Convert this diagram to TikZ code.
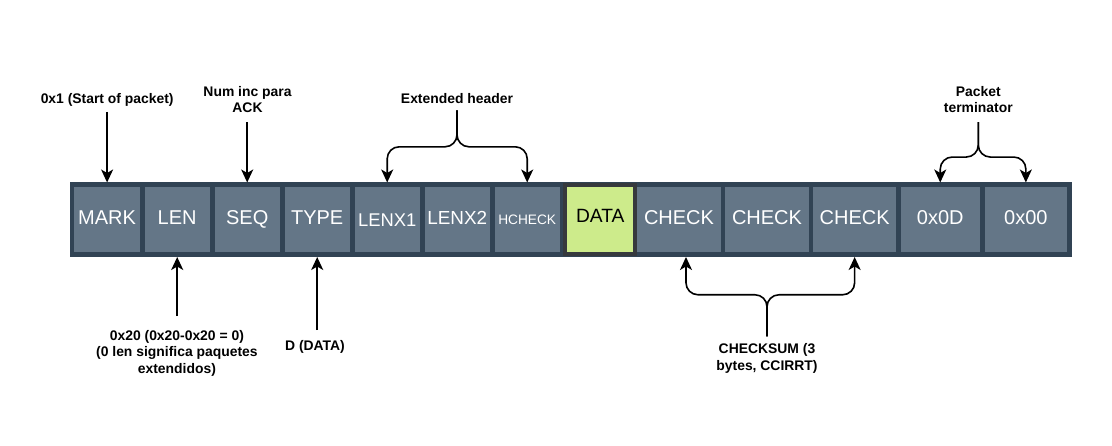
\documentclass[tikz,border=0pt]{standalone}
\usepackage{fontspec}
\setmainfont{Liberation Sans}
\usetikzlibrary{arrows.meta}

\definecolor{cellfill}{HTML}{647687}
\definecolor{cellline}{HTML}{314354}
\definecolor{datafill}{HTML}{CDEB8B}
\definecolor{dataline}{HTML}{36393D}

\tikzset{
  cell/.style={draw=cellline, fill=cellfill, line width=4.6pt, minimum height=69.9pt,
    inner sep=0pt, text=white, text depth=5pt, font=\fontsize{20}{24}\selectfont},
  lbl/.style={font=\bfseries\fontsize{13.9}{16.5}\selectfont, align=center, inner sep=2pt},
  arr/.style={line width=1.6pt, -{Stealth[length=13pt,width=12pt,inset=3.5pt]}},
}

\begin{document}
\begin{tikzpicture}[x=1pt,y=-1pt]
\useasboundingbox (0,0) rectangle (1112,446);

% packet frame behind the fields
\node[cell, fill=cellline, minimum width=997.5pt] (packet) at (570.75,219.75) {};

% packet fields
\foreach \name/\xl/\xr/\txt in {mark/72/142.2/MARK, len/142.2/212.2/LEN, seq/212.2/282.2/SEQ,
    type/282.2/352.2/TYPE, checka/635/723/CHECK, checkb/723/811/CHECK, checkc/811/898.3/CHECK,
    termd/898.3/982.2/0x0D, termz/982.2/1069.5/0x00}{
  \node[cell, minimum width={(\xr-\xl)*1pt}] (\name) at ({(\xl+\xr)/2},219.75) {\txt};
}
\node[cell, minimum width=70pt, text depth=0pt, font=\fontsize{18.4}{22}\selectfont] (lenx1) at (387.2,219.75) {LENX1};
\node[cell, minimum width=70pt, text depth=4pt, font=\fontsize{18.9}{22}\selectfont] (lenx2) at (457.2,219.75) {LENX2};
\node[cell, minimum width=70pt, text depth=0pt, font=\fontsize{13.7}{16}\selectfont] (hcheck) at (527.2,219.75) {HCHECK};
\node[cell, minimum width=70pt, minimum height=69.2pt, draw=dataline, fill=datafill, line width=4pt,
  text=black, text depth=7pt, font=\fontsize{19.2}{23}\selectfont] (data) at (600.3,219.4) {DATA};

% labels
\node[lbl] (startlbl) at (107.2,99.7) {0x1 (Start of packet)};
\node[lbl] (seqlbl) at (247.5,99.7) {Num inc para\\ACK};
\node[lbl] (extlbl) at (457,99) {Extended header};
\node[lbl] (termlbl) at (978.3,99.5) {Packet\\terminator};
\node[lbl] (lenlbl) at (176.9,353.2) {0x20 (0x20-0x20 = 0)\\(0 len significa paquetes\\extendidos)};
\node[lbl] (typelbl) at (315,346.7) {D (DATA)};
\node[lbl] (cslbl) at (767,358.3) {CHECKSUM (3\\bytes, CCIRRT)};

% arrows
\draw[arr, shorten <=3.5pt] (mark.north |- startlbl.south) -- (mark.north);
\draw[arr, shorten <=7pt] (seq.north |- seqlbl.south) -- (seq.north);
\draw[arr, rounded corners=12pt, shorten <=4pt] (extlbl.south) -- ++(0,40.5) -| (lenx1.north);
\draw[arr, rounded corners=12pt, shorten <=4pt] (extlbl.south) -- ++(0,40.5) -| (hcheck.north);
\draw[arr, rounded corners=12pt, shorten <=7pt] (termlbl.south) -- ++(0,42) -| (termd.north);
\draw[arr, rounded corners=12pt, shorten <=7pt] (termlbl.south) -- ++(0,42) -| (termz.north);
\draw[arr, shorten <=12pt] (len.south |- lenlbl.north) -- (len.south);
\draw[arr, shorten <=8pt] (type.south |- typelbl.north) -- (type.south);
\draw[arr, rounded corners=12pt, shorten <=5pt] (cslbl.north) -- ++(0,-46.6) -| ([xshift=7pt]checka.south);
\draw[arr, rounded corners=12pt, shorten <=5pt] (cslbl.north) -- ++(0,-46.6) -| (checkc.south);

\end{tikzpicture}
\end{document}
